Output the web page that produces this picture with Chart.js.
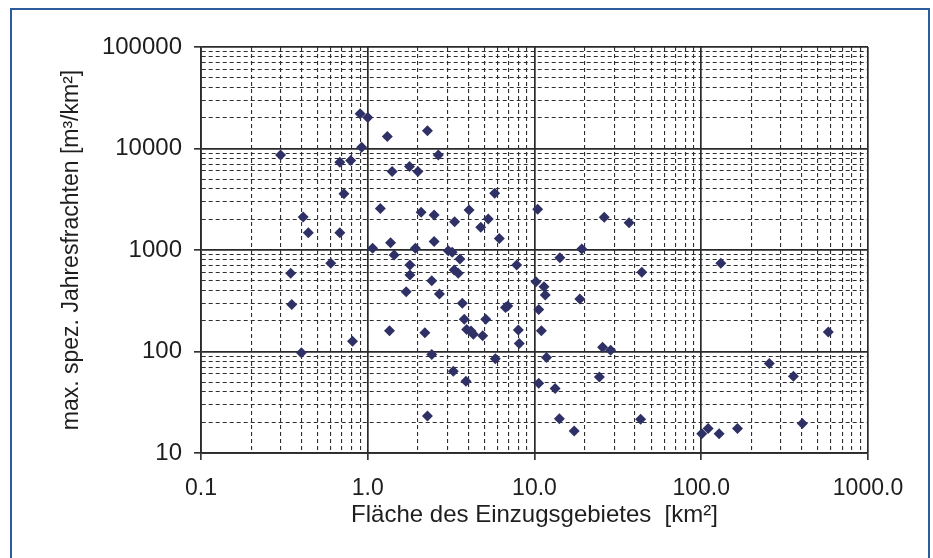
<!DOCTYPE html>
<html><head><meta charset="utf-8">
<script src="https://cdn.jsdelivr.net/npm/chart.js@4.4.0/dist/chart.umd.min.js"></script>
<style>
html,body{margin:0;padding:0;background:#fff;overflow:hidden}
#wrap{position:relative;width:933px;height:558px}
#frame{position:absolute;left:10px;top:8px;width:920px;height:600px;border:2px solid #2d5c9c;box-sizing:border-box;pointer-events:none}
</style></head><body>
<div id="wrap"><canvas id="c"></canvas><div id="frame"></div></div>
<script>
// Fläche des Einzugsgebietes [km²]
const areaKm2 = [
  0.90, 1.00, 1.31, 2.28, 0.92, 0.30, 0.68, 0.79, 1.40, 1.78,
  2.00, 0.72, 1.19, 2.09, 0.41, 0.44, 0.68, 1.07, 1.37, 1.93,
  1.44, 0.60, 1.79, 0.345, 1.79, 1.70, 0.35, 1.35, 2.20, 0.81,
  0.40, 2.28,
  2.65, 5.77, 2.50, 4.05, 3.32, 5.28, 4.76, 10.45, 6.15, 26.2,
  36.9, 2.50, 3.04, 3.21, 3.57, 19.2, 14.2, 7.82, 3.30, 3.49,
  44.0, 2.42, 10.2, 11.4, 11.6, 2.69, 18.7, 3.69, 6.91, 6.70,
  10.6, 3.79, 5.10, 3.92, 4.16, 4.30, 4.89, 8.0, 8.1, 11.0,
  25.6, 28.6, 2.42, 11.8, 5.82, 3.26, 24.5, 3.88, 10.6, 13.3,
  14.1, 43.3, 17.3,
  131, 578, 256, 357, 100.7, 110, 128, 165, 404
];
// max. spez. Jahresfrachten [m³/km²]
const loadM3km2 = [
  22000, 20200, 13100, 15000, 10300, 8650, 7330, 7600, 5930, 6640,
  5930, 3590, 2560, 2350, 2120, 1480, 1480, 1040, 1180, 1040,
  893, 739, 711, 589, 566, 388, 291, 160, 153, 126,
  97, 23.2,
  8650, 3630, 2210, 2480, 1900, 2020, 1680, 2520, 1300, 2100,
  1860, 1210, 984, 949, 815, 1023, 839, 711, 635, 589,
  603, 498, 487, 434, 360, 368, 329, 298, 280, 272,
  260, 208, 208, 165, 159, 148, 143, 163, 120, 160,
  110, 103, 93.5, 87.4, 84.6, 64, 56.2, 51, 48.7, 43.2,
  21.8, 21.5, 16.5,
  739, 156, 76.2, 57.1, 15.5, 17.4, 15.5, 17.4, 19.5
];
const xMajorTicks = [0.1, 1, 10, 100, 1000];
const xTickLabels = ['0.1', '1.0', '10.0', '100.0', '1000.0'];
const yMajorTicks = [10, 100, 1000, 10000, 100000];
const yTickLabels = ['10', '100', '1000', '10000', '100000'];
const xTitle = 'Fläche des Einzugsgebietes  [km²]';
const yTitle = 'max. spez. Jahresfrachten [m³/km²]';

function withMinor(majors) {
  const out = [];
  majors.forEach((m, i) => {
    out.push(m);
    if (i < majors.length - 1) for (let k = 2; k <= 9; k++) out.push(+(m * k).toPrecision(6));
  });
  return out;
}
function isMajorVal(v, majors) { return majors.some(m => Math.abs(v - m) / m < 1e-6); }
function labelFor(v, majors, labels) {
  const i = majors.findIndex(m => Math.abs(v - m) / m < 1e-6);
  return i >= 0 ? labels[i] : '';
}

const FONT = "'Liberation Sans', Arial, sans-serif";
const points = areaKm2.map((x, i) => ({ x, y: loadM3km2[i] }));

function gridOpts(majors) {
  return {
    color: c => (c.tick && isMajorVal(c.tick.value, majors)) ? '#2a2a2a' : '#2e2e2e',
    lineWidth: c => (c.tick && isMajorVal(c.tick.value, majors)) ? 1.7 : 1.1,
    tickColor: c => (c.tick && isMajorVal(c.tick.value, majors)) ? '#2a2a2a' : 'rgba(0,0,0,0)',
    tickWidth: 1.6,
    tickLength: 7,
    drawTicks: true
  };
}
function borderOpts(majors) {
  return {
    display: true, color: '#2a2a2a', width: 1.7,
    dash: c => (c.tick && !isMajorVal(c.tick.value, majors)) ? [4, 3] : []
  };
}

new Chart(document.getElementById('c'), {
  type: 'scatter',
  data: { datasets: [{
    data: points,
    pointStyle: 'rectRot',
    pointRadius: 5.5,
    pointBackgroundColor: '#2f3166',
    pointBorderColor: '#2f3166',
    pointBorderWidth: 0,
    showLine: false
  }]},
  options: {
    responsive: true, maintainAspectRatio: false, animation: false,
    layout: { padding: { left: 0, top: 47, right: 65, bottom: 0 } },
    plugins: { legend: { display: false }, tooltip: { enabled: false } },
    scales: {
      x: {
        type: 'logarithmic', position: 'bottom', min: 0.1, max: 1000,
        afterBuildTicks: s => { s.ticks = withMinor(xMajorTicks).map(v => ({ value: v })); },
        afterFit: s => { s.height = 105; },
        grid: gridOpts(xMajorTicks), border: borderOpts(xMajorTicks),
        ticks: {
          autoSkip: false, maxRotation: 0, minRotation: 0, padding: 15,
          color: '#1e1e1e', font: { family: FONT, size: 23 },
          callback: v => labelFor(v, xMajorTicks, xTickLabels)
        },
        title: { display: true, text: xTitle, color: '#1e1e1e',
          font: { family: FONT, size: 24 }, padding: { top: 0, bottom: 28 } }
      },
      y: {
        type: 'logarithmic', position: 'left', min: 10, max: 100000,
        afterBuildTicks: s => { s.ticks = withMinor(yMajorTicks).map(v => ({ value: v })); },
        afterFit: s => { s.width = 201; },
        grid: gridOpts(yMajorTicks), border: borderOpts(yMajorTicks),
        ticks: {
          autoSkip: false, padding: 12,
          color: '#1e1e1e', font: { family: FONT, size: 24 },
          callback: v => labelFor(v, yMajorTicks, yTickLabels)
        },
        title: { display: true, text: yTitle, color: '#1e1e1e',
          font: { family: FONT, size: 23 }, padding: { top: 58, bottom: 0 } }
      }
    }
  }
});
</script>
</body></html>
